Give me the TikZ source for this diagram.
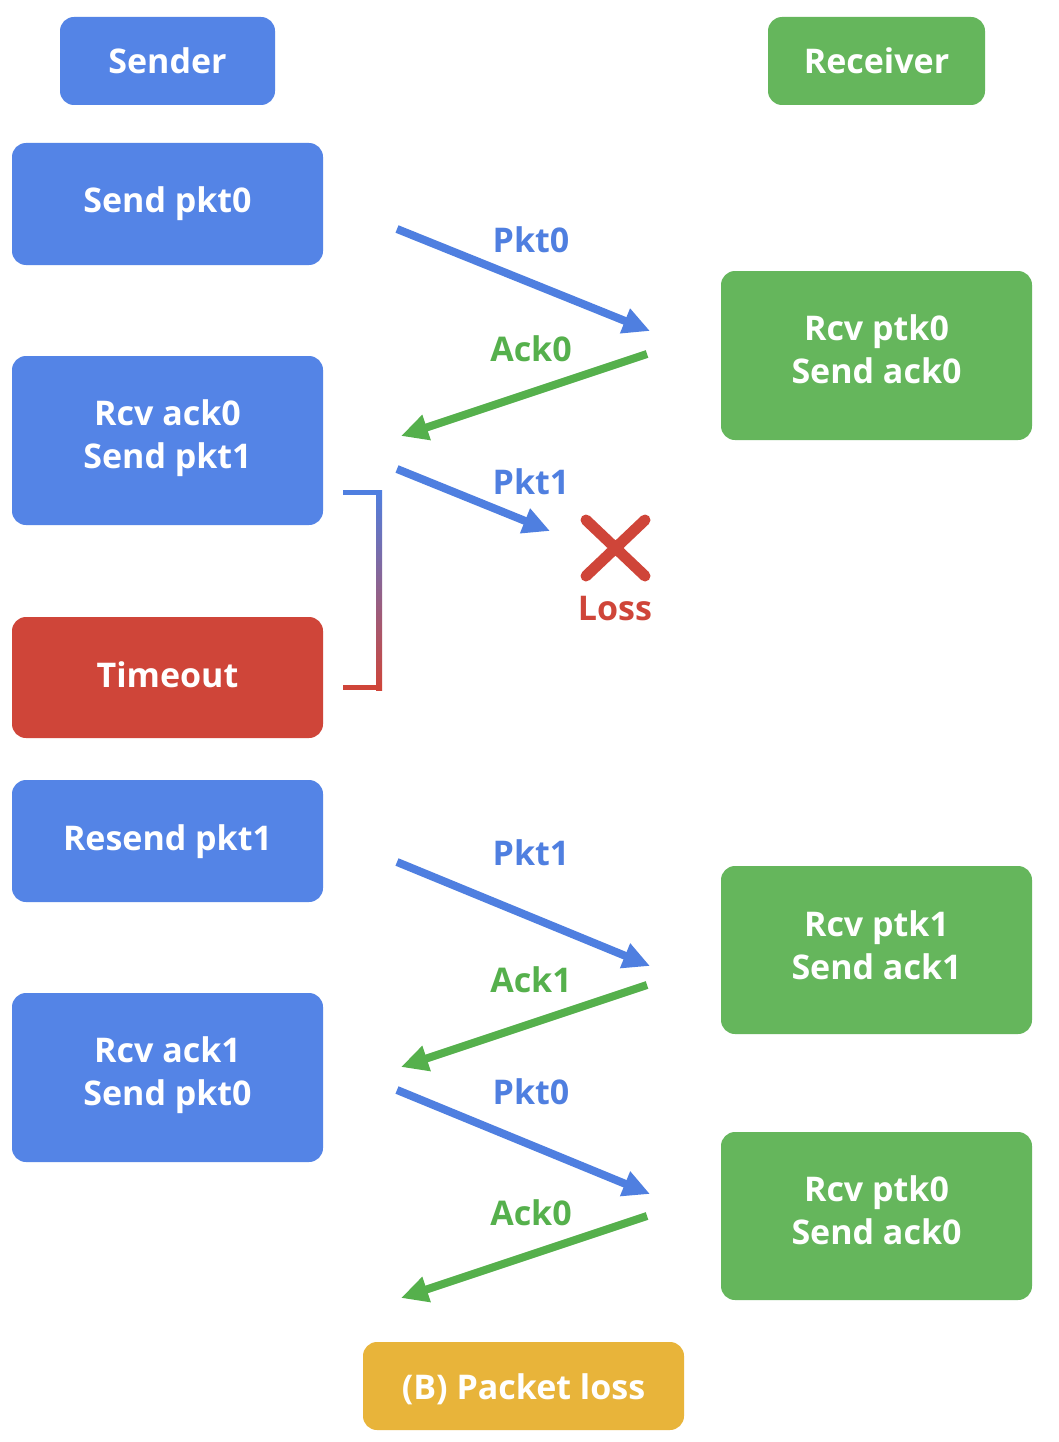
\documentclass[tikz,border=0pt]{standalone}
\usepackage{fontspec}
\setmainfont{Open Sans}
\usetikzlibrary{arrows.meta}
\definecolor{gblue}{HTML}{5484E6}
\definecolor{ggreen}{HTML}{65B65C}
\definecolor{gred}{HTML}{CF4539}
\definecolor{gyellow}{HTML}{E8B43A}
\definecolor{tblue}{HTML}{4F7FE0}
\definecolor{tgreen}{HTML}{55B04C}
\begin{document}
\begin{tikzpicture}[x=1pt,y=-1pt,
  box/.style={text=white, font=\bfseries\fontsize{34}{43}\selectfont, align=center, inner sep=0pt},
  lbl/.style={font=\bfseries\fontsize{34}{38}\selectfont},
  msg/.style={line width=8pt, -{Triangle[length=27pt,width=25pt]}}]
\useasboundingbox (0,0) rectangle (1058,1442);
\fill[white] (0,0) rectangle (1058,1442);
% boxes
\fill[gblue, rounded corners=14pt] (60,17) rectangle (275,105);
\node[box] (sender) at (167.5,61) {Sender};
\fill[ggreen, rounded corners=14pt] (768,17) rectangle (985,105);
\node[box] (receiver) at (876.5,61) {Receiver};

\fill[gblue, rounded corners=14pt] (12,143) rectangle (323,265);
\node[box] (s1) at (167.5,204) {Send pkt0};
\fill[gblue, rounded corners=14pt] (12,356) rectangle (323,525);
\node[box] (s2) at (167.5,438.5) {Rcv ack0\\Send pkt1};
\fill[gred, rounded corners=14pt] (12,617) rectangle (323,738);
\node[box] (s3) at (167.5,675) {Timeout};
\fill[gblue, rounded corners=14pt] (12,780) rectangle (323,902);
\node[box] (s4) at (167.5,842) {Resend pkt1};
\fill[gblue, rounded corners=14pt] (12,993) rectangle (323,1162);
\node[box] (s5) at (167.5,1075.5) {Rcv ack1\\Send pkt0};

\fill[ggreen, rounded corners=14pt] (721,271) rectangle (1032,440);
\node[box] (r1) at (876.5,349.5) {Rcv ptk0\\Send ack0};
\fill[ggreen, rounded corners=14pt] (721,866) rectangle (1032,1034);
\node[box] (r2) at (876.5,945.5) {Rcv ptk1\\Send ack1};
\fill[ggreen, rounded corners=14pt] (721,1132) rectangle (1032,1300);
\node[box] (r3) at (876.5,1210.5) {Rcv ptk0\\Send ack0};

\fill[gyellow, rounded corners=14pt] (363,1342) rectangle (684,1430);
\node[box] (cap) at (523.5,1389) {(B) Packet loss};

% arrow endpoints
\coordinate (a1s) at (397,229); \coordinate (a1e) at (650,331);
\coordinate (a2s) at (647,354); \coordinate (a2e) at (401,436);
\coordinate (a3s) at (397,469); \coordinate (a3e) at (550,531);
\coordinate (a4s) at (397,862); \coordinate (a4e) at (650,966);
\coordinate (a5s) at (647,985); \coordinate (a5e) at (401,1067);
\coordinate (a6s) at (397,1090); \coordinate (a6e) at (650,1194);
\coordinate (a7s) at (647,1216); \coordinate (a7e) at (401,1298);

\draw[msg, tblue] (a1s) -- (a1e);
\draw[msg, tgreen] (a2s) -- (a2e);
\draw[msg, tblue] (a3s) -- (a3e);
\draw[msg, tblue] (a4s) -- (a4e);
\draw[msg, tgreen] (a5s) -- (a5e);
\draw[msg, tblue] (a6s) -- (a6e);
\draw[msg, tgreen] (a7s) -- (a7e);

\node[lbl, text=tblue] (l1) at (531,240) {Pkt0};
\node[lbl, text=tgreen] (l2) at (531,349) {Ack0};
\node[lbl, text=tblue] (l3) at (531,482) {Pkt1};
\node[lbl, text=tblue] (l4) at (531,853) {Pkt1};
\node[lbl, text=tgreen] (l5) at (531,980) {Ack1};
\node[lbl, text=tblue] (l6) at (531,1092) {Pkt0};
\node[lbl, text=tgreen] (l7) at (531,1213) {Ack0};

% loss X
\draw[gred, line width=11pt, line cap=round] (586,520) -- (645,576) (645,520) -- (586,576);
\node[lbl, text=gred] (loss) at (615,609) {Loss};

% bracket
\shade[top color=tblue, bottom color=gred] (376,490) rectangle (382,690);
\fill[tblue] (343,490) rectangle (382,495);
\fill[gred] (343,685) rectangle (382,690);
\end{tikzpicture}
\end{document}
